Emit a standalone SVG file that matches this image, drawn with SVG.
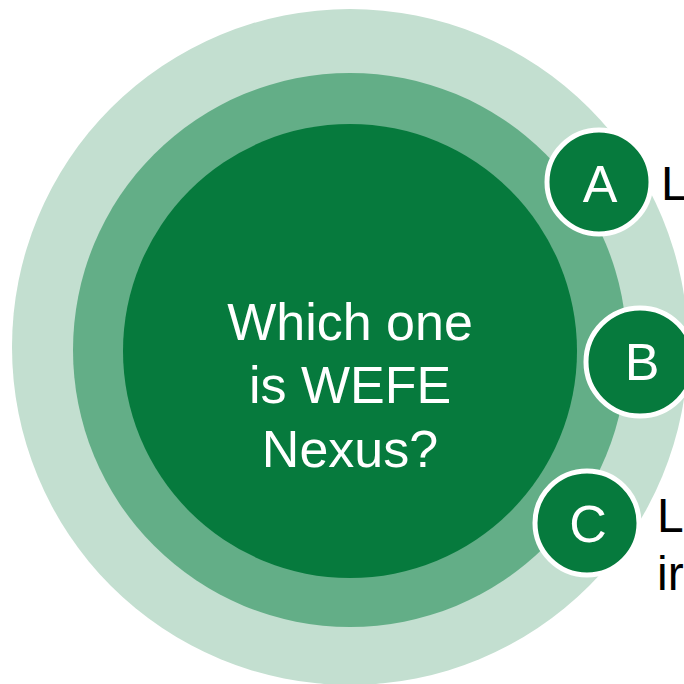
<svg xmlns="http://www.w3.org/2000/svg" width="684" height="684" viewBox="0 0 684 684">
<style>
.ring{stroke:none}
.badge{fill:#067A3D;stroke:#FFFFFF;stroke-width:5}
.bl{font-family:"Liberation Sans",Arial,sans-serif;font-size:52px;fill:#FFFFFF;text-anchor:middle}
.ct{font-family:"Liberation Sans",Arial,sans-serif;font-size:52px;fill:#FFFFFF;text-anchor:middle}
.side{font-family:"Liberation Sans",Arial,sans-serif;font-size:48px;fill:#000000}
</style>
<rect width="684" height="684" fill="#FFFFFF"/>
<g id="outer"><circle class="ring" cx="350" cy="347" r="338" fill="#C3DFD0"/></g>
<g id="middle"><circle class="ring" cx="350" cy="350" r="277" fill="#63AE87"/></g>
<g id="inner">
<circle class="ring" cx="350" cy="351" r="227" fill="#067A3D"/>
<text class="ct" x="350" y="340">Which one</text>
<text class="ct" x="350" y="403">is WEFE</text>
<text class="ct" x="350" y="467">Nexus?</text>
</g>
<g id="connectors"></g>
<g id="nodeA">
<circle class="badge" cx="599" cy="182" r="52"/>
<text class="bl" x="600" y="202">A</text>
<text class="side" x="661" y="200">L</text>
</g>
<g id="nodeB">
<circle class="badge" cx="640" cy="362" r="54"/>
<text class="bl" x="642" y="380">B</text>
</g>
<g id="nodeC">
<circle class="badge" cx="587" cy="523" r="52"/>
<text class="bl" x="588" y="542">C</text>
<text class="side" x="657" y="532">L</text>
<text class="side" x="657" y="590">ir</text>
</g>
</svg>
